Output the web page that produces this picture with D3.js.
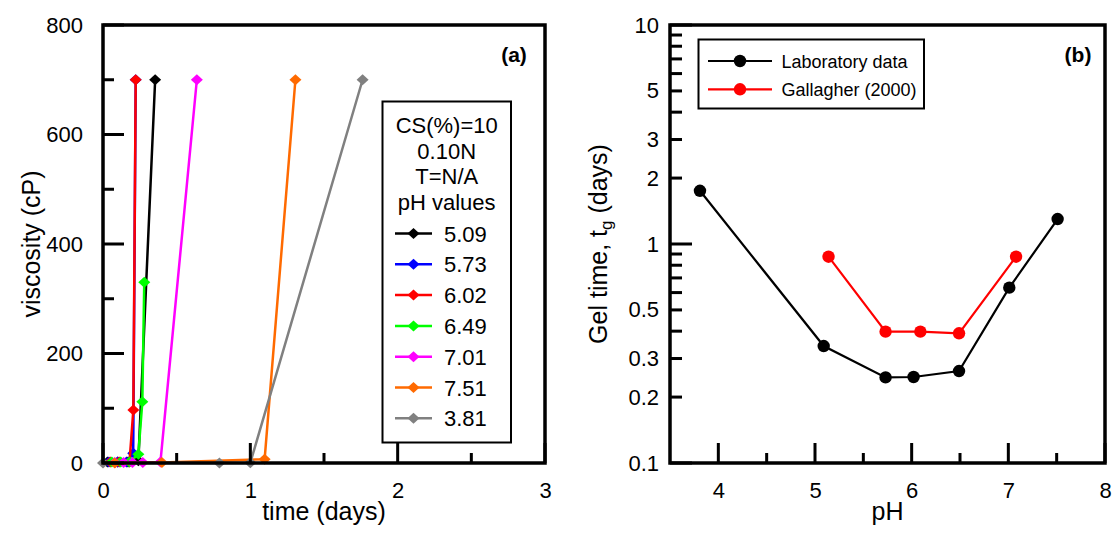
<!DOCTYPE html>
<html><head><meta charset="utf-8">
<script src="https://cdn.jsdelivr.net/npm/d3@7"></script>
<style>body{margin:0;background:#fff}</style>
</head><body>
<svg id="c" width="1115" height="540"></svg>
<script>
// ---------- Data: panel (a) viscosity vs time ----------
const phLabels = ["5.09", "5.73", "6.02", "6.49", "7.01", "7.51", "3.81"];
const seriesColors = ["#000000", "#0000ff", "#ff0000", "#00ff00", "#ff00ff", "#ff6a00", "#808080"];
const t509 = [0.03, 0.10, 0.17, 0.24, 0.354];
const v509 = [2, 2, 2, 4, 700];
const t573 = [0.04, 0.10, 0.16, 0.205, 0.222];
const v573 = [2, 2, 2, 18, 700];
const t602 = [0.05, 0.11, 0.18, 0.206, 0.222];
const v602 = [2, 2, 2, 97, 700];
const t649 = [0.06, 0.12, 0.18, 0.24, 0.267, 0.28];
const v649 = [2, 2, 2, 16, 112, 330];
const t701 = [0.08, 0.14, 0.20, 0.27, 0.39, 0.637];
const v701 = [1, 1, 1, 1, 2, 700];
const t751 = [0.08, 0.40, 1.097, 1.306];
const v751 = [0, 1, 7, 700];
const t381 = [0.0, 0.79, 1.0, 1.762];
const v381 = [0, 0, 0.5, 700];
const timesList = [t509, t573, t602, t649, t701, t751, t381];
const viscList = [v509, v573, v602, v649, v701, v751, v381];
const legendHeader = ["CS(%)=10", "0.10N", "T=N/A", "pH values"];
const xTicksA = [0, 1, 2, 3], xMinorA = [0.5, 1.5, 2.5];
const yTicksA = [0, 200, 400, 600, 800], yMinorA = [100, 300, 500, 700];

// ---------- Data: panel (b) gel time vs pH ----------
const labPH = [3.81, 5.09, 5.73, 6.02, 6.49, 7.01, 7.51];
const labGel = [1.75, 0.342, 0.246, 0.247, 0.263, 0.632, 1.30];
const galPH = [5.14, 5.73, 6.09, 6.49, 7.08];
const galGel = [0.875, 0.398, 0.398, 0.391, 0.875];
const seriesB = ["Laboratory data", "Gallagher (2000)"];
const colorsB = ["#000000", "#ff0000"];
const xTicksB = [4, 5, 6, 7, 8], xMinorB = [4.5, 5.5, 6.5, 7.5];
const yMajorB = [0.1, 1, 10];
const yLabelB = [0.1, 0.2, 0.3, 0.5, 1, 2, 3, 5, 10];
const yMinorB = [0.2, 0.3, 0.4, 0.5, 0.6, 0.7, 0.8, 0.9, 2, 3, 4, 5, 6, 7, 8, 9];

const FONT = '"Liberation Sans", Arial, Helvetica, sans-serif';
const svg = d3.select("#c");

function styleAxis(g, fs) {
  g.select(".domain").remove();
  g.selectAll(".tick line").remove();
  g.attr("font-family", FONT).attr("font-size", fs);
  g.selectAll(".tick text").attr("fill", "#000");
}
// inward tick marks drawn from a scale (as thin filled rectangles)
function ticksX(g, scale, vals, y0, len) {
  g.append("g").selectAll("rect").data(vals).enter().append("rect")
    .attr("x", d => scale(d) - 1.5).attr("width", 3)
    .attr("y", y0 - len).attr("height", len)
    .attr("fill", "#000");
}
function ticksY(g, scale, vals, x0, len) {
  g.append("g").selectAll("rect").data(vals).enter().append("rect")
    .attr("y", d => scale(d) - 1.5).attr("height", 3)
    .attr("x", x0).attr("width", len)
    .attr("fill", "#000");
}

// ================= Panel (a) =================
const xA = d3.scaleLinear().domain([0, 3]).range([103, 545]);
const yA = d3.scaleLinear().domain([0, 800]).range([463, 25]);

const gA = svg.append("g");
gA.append("g").attr("transform", `translate(0,${yA(0)})`)
  .call(d3.axisBottom(xA).tickValues(xTicksA).tickSize(0).tickPadding(19).tickFormat(d3.format("d")))
  .call(g => styleAxis(g, 22));
gA.append("g").attr("transform", `translate(${xA(0)},0)`)
  .call(d3.axisLeft(yA).tickValues(yTicksA).tickSize(0).tickPadding(20).tickFormat(d3.format("d")))
  .call(g => styleAxis(g, 22));

const diamond = "M0,-5.5L6,0L0,5.5L-6,0Z";
const lineA = d3.line().x(d => xA(d[0])).y(d => yA(d[1]));
timesList.forEach((ts, i) => {
  const pts = ts.map((t, j) => [t, viscList[i][j]]);
  gA.append("path").datum(pts).attr("d", lineA)
    .attr("fill", "none").attr("stroke", seriesColors[i]).attr("stroke-width", 2.5);
  gA.selectAll(null).data(pts).enter().append("path")
    .attr("d", diamond)
    .attr("transform", d => `translate(${xA(d[0])},${yA(d[1])})`)
    .attr("fill", seriesColors[i]);
});

// legend (a)
const legA = gA.append("g");
legA.append("rect").attr("x", 382.5).attr("y", 101.5).attr("width", 128.5).attr("height", 341)
  .attr("fill", "#fff").attr("stroke", "#000").attr("stroke-width", 2);
legendHeader.forEach((s, i) => {
  legA.append("text").attr("x", 446.7).attr("y", 133 + i * 25.7)
    .attr("text-anchor", "middle").attr("font-family", FONT).attr("font-size", 22).text(s);
});
phLabels.forEach((s, i) => {
  const cy = 233.5 + i * 30.8;
  legA.append("line").attr("x1", 395).attr("x2", 432).attr("y1", cy).attr("y2", cy)
    .attr("stroke", seriesColors[i]).attr("stroke-width", 2.5);
  legA.append("path").attr("d", diamond).attr("transform", `translate(413.5,${cy})`).attr("fill", seriesColors[i]);
  legA.append("text").attr("x", 444).attr("y", cy + 8)
    .attr("font-family", FONT).attr("font-size", 22).text(s);
});

gA.append("text").attr("x", 514).attr("y", 62).attr("text-anchor", "middle")
  .attr("font-family", FONT).attr("font-size", 21).attr("font-weight", "bold").text("(a)");
gA.append("text").attr("x", (xA(0) + xA(3)) / 2).attr("y", 520).attr("text-anchor", "middle")
  .attr("font-family", FONT).attr("font-size", 25).text("time (days)");
gA.append("text").attr("transform", `translate(40,${(yA(0) + yA(800)) / 2}) rotate(-90)`)
  .attr("text-anchor", "middle").attr("font-family", FONT).attr("font-size", 25).text("viscosity (cP)");

// ================= Panel (b) =================
const xB = d3.scaleLinear().domain([3.5, 8]).range([670, 1105]);
const yB = d3.scaleLog().domain([0.1, 10]).range([463, 25]);
const gB = svg.append("g");

gB.append("g").attr("transform", `translate(0,${yB(0.1)})`)
  .call(d3.axisBottom(xB).tickValues(xTicksB).tickSize(0).tickPadding(19).tickFormat(d3.format("d")))
  .call(g => styleAxis(g, 22));
gB.append("g").attr("transform", `translate(${xB(3.5)},0)`)
  .call(d3.axisLeft(yB).tickValues(yLabelB).tickSize(0).tickPadding(11).tickFormat(d => String(d)))
  .call(g => styleAxis(g, 22));

const lineB = d3.line().x(d => xB(d[0])).y(d => yB(d[1]));
[[labPH, labGel], [galPH, galGel]].forEach(([xs, ys], i) => {
  const pts = xs.map((x, j) => [x, ys[j]]);
  gB.append("path").datum(pts).attr("d", lineB)
    .attr("fill", "none").attr("stroke", colorsB[i]).attr("stroke-width", 2.2);
  gB.selectAll(null).data(pts).enter().append("circle")
    .attr("cx", d => xB(d[0])).attr("cy", d => yB(d[1])).attr("r", 6.2).attr("fill", colorsB[i]);
});

const legB = gB.append("g");
legB.append("rect").attr("x", 698.5).attr("y", 39.5).attr("width", 225.5).attr("height", 69)
  .attr("fill", "#fff").attr("stroke", "#000").attr("stroke-width", 2);
seriesB.forEach((s, i) => {
  const cy = 61 + i * 28.3;
  legB.append("line").attr("x1", 708).attr("x2", 772).attr("y1", cy).attr("y2", cy)
    .attr("stroke", colorsB[i]).attr("stroke-width", 2.2);
  legB.append("circle").attr("cx", 740).attr("cy", cy).attr("r", 6.2).attr("fill", colorsB[i]);
  legB.append("text").attr("x", 781.5).attr("y", cy + 6.5)
    .attr("font-family", FONT).attr("font-size", 18).text(s);
});

gB.append("text").attr("x", 1078).attr("y", 62).attr("text-anchor", "middle")
  .attr("font-family", FONT).attr("font-size", 21).attr("font-weight", "bold").text("(b)");
gB.append("text").attr("x", (xB(3.5) + xB(8)) / 2).attr("y", 520).attr("text-anchor", "middle")
  .attr("font-family", FONT).attr("font-size", 25).text("pH");
const yt = gB.append("text").attr("transform", `translate(607,${(yB(0.1) + yB(10)) / 2}) rotate(-90)`)
  .attr("text-anchor", "middle").attr("font-family", FONT).attr("font-size", 25);
yt.append("tspan").text("Gel time, t");
yt.append("tspan").attr("font-size", 17).attr("dy", "0.3em").text("g");
yt.append("tspan").attr("dy", "-0.2em").text(" (days)");

// ---------- ticks and frames drawn last ----------
const tk = svg.append("g");
ticksX(tk, xA, xTicksA, yA(0), 20);
ticksX(tk, xA, xMinorA, yA(0), 10);
ticksY(tk, yA, yTicksA, xA(0), 21);
ticksY(tk, yA, yMinorA, xA(0), 11);
ticksX(tk, xB, xTicksB, yB(0.1), 20);
ticksX(tk, xB, xMinorB, yB(0.1), 10);
ticksY(tk, yB, yMajorB, xB(3.5), 22);
ticksY(tk, yB, yMinorB, xB(3.5), 12);
tk.append("rect").attr("x", xA(0)).attr("y", yA(800))
  .attr("width", xA(3) - xA(0)).attr("height", yA(0) - yA(800))
  .attr("fill", "none").attr("stroke", "#000").attr("stroke-width", 3.5);
tk.append("rect").attr("x", xB(3.5)).attr("y", yB(10))
  .attr("width", xB(8) - xB(3.5)).attr("height", yB(0.1) - yB(10))
  .attr("fill", "none").attr("stroke", "#000").attr("stroke-width", 3.5);
</script>
</body></html>
